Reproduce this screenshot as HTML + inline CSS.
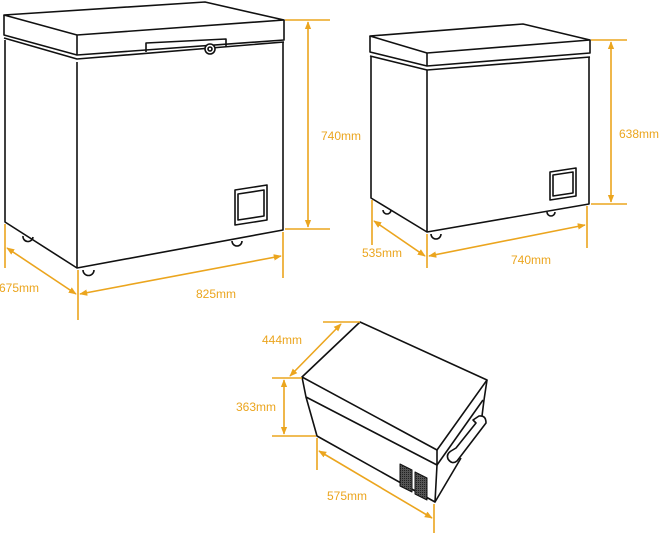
<!DOCTYPE html>
<html><head><meta charset="utf-8"><style>
html,body{margin:0;padding:0;background:#fff;width:660px;height:535px;overflow:hidden}
svg{display:block}
text{font-family:"Liberation Sans",sans-serif;font-size:12px;fill:#EBA51E}
</style></head><body>
<svg width="660" height="535" viewBox="0 0 660 535">
<defs>
<marker id="a" viewBox="0 0 10 10" refX="9" refY="5" markerWidth="8" markerHeight="8" orient="auto-start-reverse" markerUnits="userSpaceOnUse"><path d="M0,1 L10,5 L0,9 Z" fill="#EBA51E"/></marker>
<pattern id="h" width="2" height="2" patternUnits="userSpaceOnUse"><rect width="2" height="2" fill="#555"/><rect width="1" height="1" fill="#222"/></pattern>
</defs>
<g fill="none" stroke="#111" stroke-width="1.6" stroke-linejoin="round">
<path d="M4,15 L205,2 L284,20 L77,35 Z"/>
<path d="M4,15 L4,35 L77,55 L284,40 L284,20"/>
<path d="M77,35 L77,55"/>
<path d="M4,38 L77,59 L284,42"/>
<path d="M5,40 L5,222 L77,268 L283,230 L283,42"/>
<path d="M77,62 L77,268"/>
<path d="M146,52 L146,43 L226,39 L226,47"/>
<circle cx="210" cy="49" r="5" fill="#fff"/><circle cx="210" cy="49" r="2"/>
<path d="M235,190 L267,185 L267,220 L235,225 Z"/>
<path d="M238,194 L264,190 L264,216 L238,220 Z"/>
<path d="M23,236 a5,5 0 0 0 10,1"/>
<path d="M83,270 a5,5 0 1 0 11,0"/>
<path d="M232,241 a5,5 0 0 0 10,0"/>
<path d="M370,36 L523,24 L590,40 L427,53 Z"/>
<path d="M370,36 L370,52 L427,66 L590,53 L590,40"/>
<path d="M427,53 L427,66"/>
<path d="M370,56 L427,70 L590,57"/>
<path d="M371,57 L371,198 L427,232 L589,204 L589,57"/>
<path d="M427,70 L427,232"/>
<path d="M550,172 L576,168 L576,196 L550,200 Z"/>
<path d="M553,175 L573,172 L573,193 L553,196 Z"/>
<path d="M383,210 a4,4 0 0 0 8,0"/>
<path d="M431,234 a5,5 0 1 0 10,0"/>
<path d="M547,212 a4,4 0 0 0 8,0"/>
<path d="M302,377 L360,322 L487,380 L437,450 Z"/>
<path d="M302,377 L306,397 L437,465 L437,450"/>
<path d="M437,465 L483,400"/>
<path d="M487,380 L484,400 L482,416"/>
<path d="M306,397 L317,436 L435,502 L437,465"/>
<path d="M435,502 L461,458"/>
<path d="M473,420 L479,416 Q486,415 486,423 L457,461 Q452,465 448,459 Q446,454 451,451 L456,448 L476,423 Z"/>
<path d="M400,464 L412,470 L412,492 L400,486 Z" fill="url(#h)" stroke-width="1"/>
<path d="M415,472 L427,478 L427,500 L415,494 Z" fill="url(#h)" stroke-width="1"/>
</g>
<g stroke="#EBA51E" stroke-width="1.6" fill="none">
<path d="M285,20 H330 M285,229 H330"/>
<path d="M308,22 V227" marker-start="url(#a)" marker-end="url(#a)"/>
<path d="M5,224 V268 M78,270 V320 M283,232 V278"/>
<path d="M7,248 L76,294" marker-start="url(#a)" marker-end="url(#a)"/>
<path d="M80,294 L281,256" marker-start="url(#a)" marker-end="url(#a)"/>
<path d="M591,40 H627 M591,204 H627"/>
<path d="M611,42 V202" marker-start="url(#a)" marker-end="url(#a)"/>
<path d="M372,200 V245 M427,234 V268 M587,206 V248"/>
<path d="M374,221 L425,256" marker-start="url(#a)" marker-end="url(#a)"/>
<path d="M429,256 L585,225" marker-start="url(#a)" marker-end="url(#a)"/>
<path d="M323,322 H360 M272,378 H302 M272,436 H316"/>
<path d="M290,376 L341,324" marker-start="url(#a)" marker-end="url(#a)"/>
<path d="M284,380 V434" marker-start="url(#a)" marker-end="url(#a)"/>
<path d="M317,438 V470 M434,504 V533"/>
<path d="M319,451 L432,518" marker-start="url(#a)" marker-end="url(#a)"/>
</g>
<text x="321" y="140">740mm</text>
<text x="-1" y="292">675mm</text>
<text x="196" y="298">825mm</text>
<text x="619" y="138">638mm</text>
<text x="362" y="257">535mm</text>
<text x="511" y="264">740mm</text>
<text x="262" y="344">444mm</text>
<text x="236" y="411">363mm</text>
<text x="327" y="500">575mm</text>
</svg>
</body></html>
